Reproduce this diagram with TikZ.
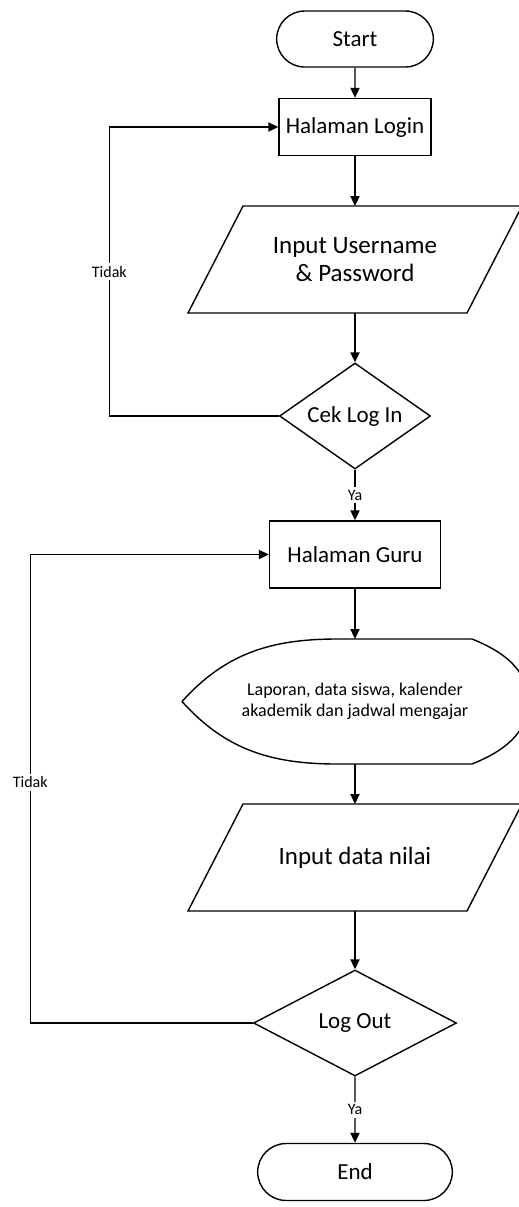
\documentclass[tikz,border=0pt]{standalone}
\usepackage{fontspec}
\setmainfont{Carlito}
\usetikzlibrary{arrows.meta}
\usetikzlibrary{shapes,positioning,calc}

\begin{document}
\begin{tikzpicture}[x=0.5pt,y=-0.5pt]
            \tikzstyle{arrow} = [line width=0.7pt,->,>={Triangle[length=5pt,width=4.6pt]}]
            \tikzstyle{terminal} = [draw, line width=0.7pt, rounded rectangle, minimum height=28pt, font=\fontsize{11.5}{13}\selectfont]
            \tikzstyle{process} = [draw, line width=0.7pt, rectangle, font=\fontsize{11.5}{13}\selectfont]
            \tikzstyle{io} = [rectangle, outer sep=0pt, minimum width=139.5pt, minimum height=53.5pt, align=center, font=\fontsize{12.5}{14}\selectfont]
            \tikzstyle{decision} = [draw, line width=0.7pt, diamond, inner sep=1pt, minimum height=53pt, font=\fontsize{11.5}{13}\selectfont]
            \tikzstyle{answer} = [fill=white, inner sep=1.5pt, font=\fontsize{8}{9}\selectfont]

            \useasboundingbox (0,0) rectangle (519,1207);

            \node[terminal, minimum width=85pt] (start) at (355, 39) {Start};
            \node[process, minimum width=76pt, minimum height=28.5pt] (login) at (355, 127) {Halaman Login};
            \node[io] (inlogin) at (355, 259.5) {Input Username\\ \& Password};
            \node[decision, aspect=1.42, minimum width=75.5pt] (cek) at (355, 416) {Cek Log In};
            \node[process, minimum width=85.5pt, minimum height=33.5pt] (guru) at (355, 554.5) {Halaman Guru};
            \node[outer sep=0pt, minimum width=173pt, minimum height=62.5pt, align=center, font=\fontsize{9}{10.5}\selectfont] (info) at (355, 701.5) {Laporan, data siswa, kalender\\ akademik dan jadwal mengajar};
            \node[io] (nilai) at (355, 857.5) {Input data nilai};
            \node[decision, aspect=1.9, minimum width=101.5pt] (logout) at (355, 1023) {Log Out};
            \node[terminal, minimum width=104pt, minimum height=28.5pt] (end) at (355, 1172) {End};

            % input/output boxes
            \foreach \n in {inlogin, nilai}
                \draw[line width=0.7pt] ($(\n.south west)+(-27.5,0)$) -- ($(\n.north west)+(27.5,0)$)
                    -- ($(\n.north east)+(27.5,0)$) -- ($(\n.south east)+(-27.5,0)$) -- cycle;

            % display shape
            \draw[line width=0.7pt] (info.west) to[out=48, in=180] ($(info.north west)+(155,0)$)
                -- ($(info.north east)+(-56,0)$) to[out=-22, in=90] (info.east)
                to[out=-90, in=22] ($(info.south east)+(-56,0)$)
                -- ($(info.south west)+(155,0)$) to[out=180, in=-48] (info.west);

            \draw [arrow] (start) -- (login);
            \draw [arrow] (login) -- (inlogin);
            \draw [arrow] (inlogin) -- (cek);
            \draw [arrow] (cek) -- node[answer] {Ya} (guru);
            \draw [arrow] (guru) -- (info);
            \draw [arrow] (info) -- (nilai);
            \draw [arrow] (nilai) -- (logout);
            \draw [arrow] (logout) -- node[answer] {Ya} (end);

            \draw [arrow] (cek.west) -- ++(-169.5, 0) |- node[answer, pos=0.25] {Tidak} (login.west);
            \draw [arrow] (logout.west) -- ++(-222.5, 0) |- node[answer, pos=0.257] {Tidak} (guru.west);
        \end{tikzpicture}
\end{document}
